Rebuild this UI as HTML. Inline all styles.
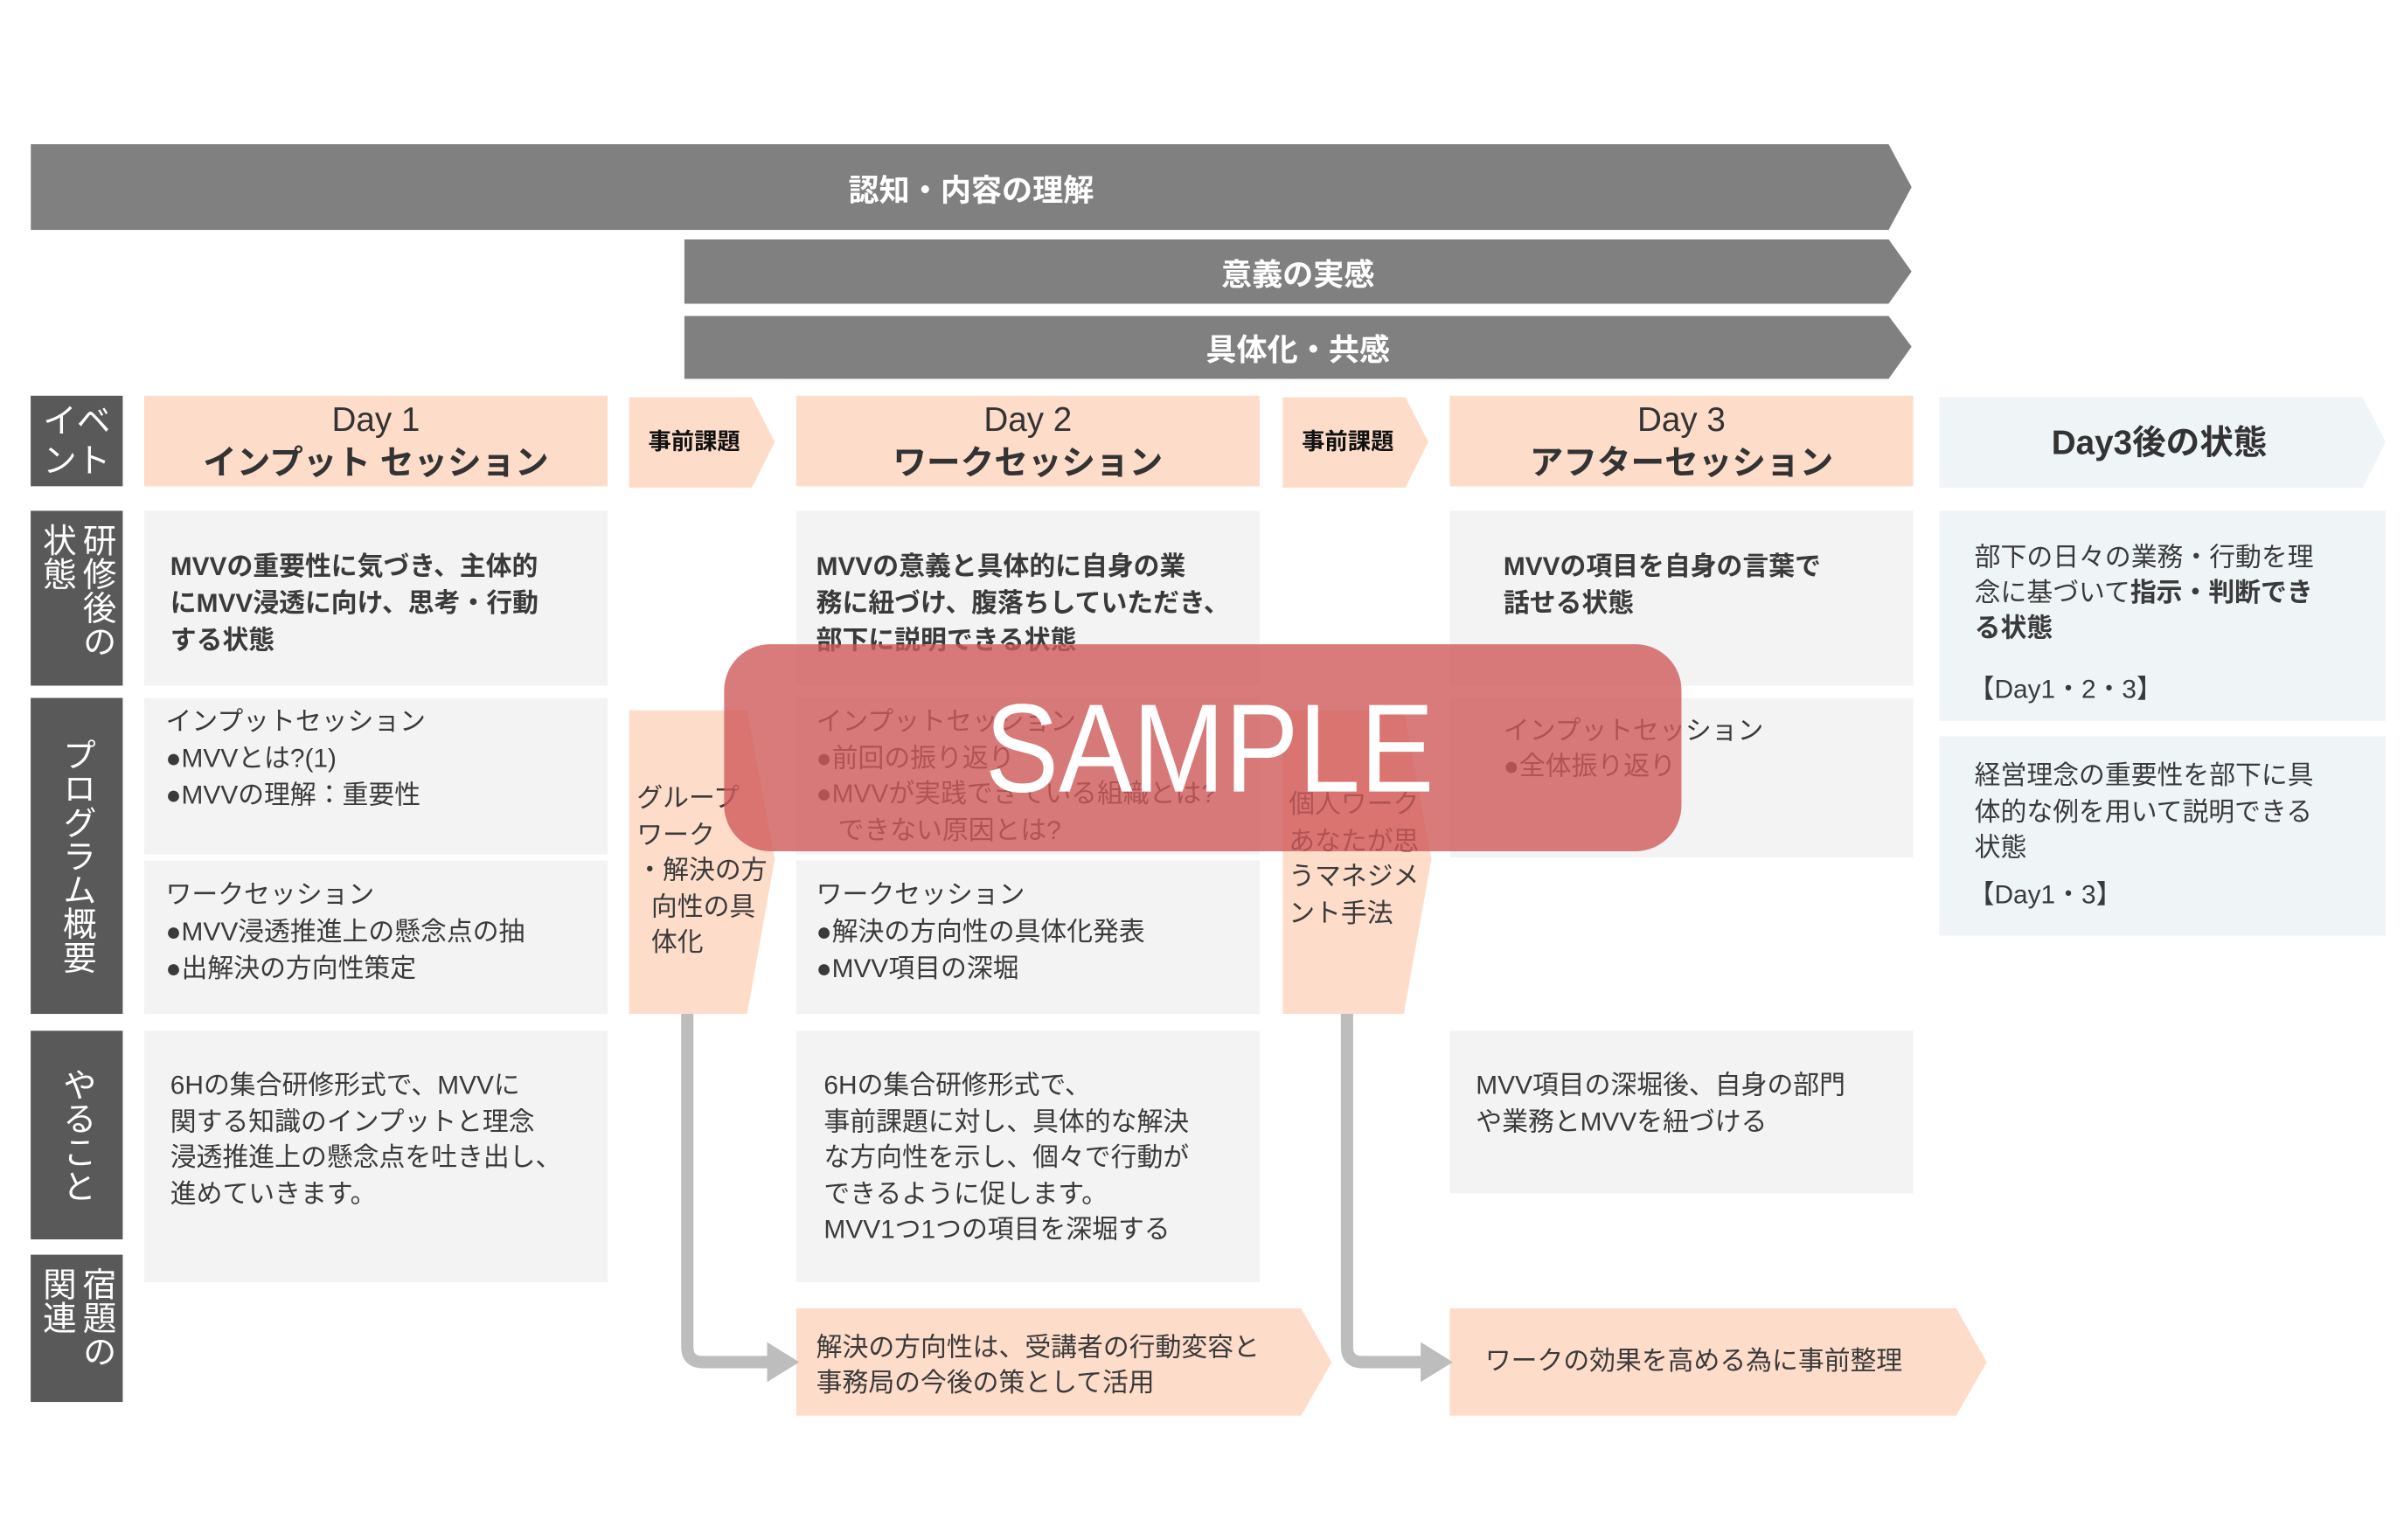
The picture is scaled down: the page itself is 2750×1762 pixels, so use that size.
<!DOCTYPE html>
<html><head><meta charset="utf-8"><style>
html,body{margin:0;padding:0;background:#fff;}
body{width:2750px;height:1761px;overflow:hidden;position:relative;}
#s{position:absolute;left:0;top:0;width:1567px;height:1004px;transform:scale(1.755);transform-origin:0 0;font-family:"Liberation Sans","Noto Sans CJK JP",sans-serif;color:#3a3a3a;}
.a{position:absolute;box-sizing:border-box;}
.bar{background:#808080;color:#fff;font-weight:bold;font-size:20px;display:flex;align-items:center;justify-content:center;}
.lab{background:#595959;color:#fff;font-size:22px;writing-mode:vertical-rl;display:flex;align-items:center;justify-content:center;line-height:26px;}
.pe{background:#fddcc9;}
.gr{background:#f3f3f3;}
.bl{background:#eff4f7;}
.t{position:absolute;font-size:17px;line-height:24px;white-space:nowrap;}
.b{font-weight:bold;}
.hd{display:flex;flex-direction:column;align-items:center;justify-content:center;font-size:22px;line-height:28px;font-weight:bold;color:#333;}
</style></head><body><div id="s">
<!-- top bars -->
<div class="a bar" style="left:20px;top:94px;width:1226px;height:56px;clip-path:polygon(0 0,1211px 0,1226px 28px,1211px 56px,0 56px);">認知・内容の理解</div>
<div class="a bar" style="left:446px;top:156px;width:800px;height:42px;clip-path:polygon(0 0,785px 0,800px 21px,785px 42px,0 42px);">意義の実感</div>
<div class="a bar" style="left:446px;top:206px;width:800px;height:41px;clip-path:polygon(0 0,785px 0,800px 20px,785px 41px,0 41px);">具体化・共感</div>

<!-- left labels -->
<div class="a lab" style="left:20px;top:258px;width:60px;height:59px;writing-mode:horizontal-tb;line-height:26px;text-align:center;">イベ<br>ント</div>
<div class="a lab" style="left:20px;top:333px;width:60px;height:114px;justify-content:flex-start;padding-top:8px;">研修後の<br>状態</div>
<div class="a lab" style="left:20px;top:455px;width:60px;height:206px;">プログラム概要</div>
<div class="a lab" style="left:20px;top:672px;width:60px;height:136px;">やること</div>
<div class="a lab" style="left:20px;top:818px;width:60px;height:96px;justify-content:flex-start;padding-top:8px;">宿題の<br>関連</div>

<!-- event row -->
<div class="a pe hd" style="left:94px;top:258px;width:302px;height:59px;"><div style="font-weight:normal">Day 1</div><div>インプット セッション</div></div>
<div class="a pe hd" style="left:410px;top:259px;width:95px;height:59px;font-size:15px;clip-path:polygon(0 0,80px 0,95px 29px,80px 59px,0 59px);color:#111;padding-right:10px;">事前課題</div>
<div class="a pe hd" style="left:519px;top:258px;width:302px;height:59px;"><div style="font-weight:normal">Day 2</div><div>ワークセッション</div></div>
<div class="a pe hd" style="left:836px;top:259px;width:95px;height:59px;font-size:15px;clip-path:polygon(0 0,80px 0,95px 29px,80px 59px,0 59px);color:#111;padding-right:10px;">事前課題</div>
<div class="a pe hd" style="left:945px;top:258px;width:302px;height:59px;"><div style="font-weight:normal">Day 3</div><div>アフターセッション</div></div>
<div class="a bl hd" style="left:1264px;top:259px;width:291px;height:59px;clip-path:polygon(0 0,276px 0,291px 29px,276px 59px,0 59px);padding-right:4px;">Day3後の状態</div>

<!-- state row -->
<div class="a gr" style="left:94px;top:333px;width:302px;height:114px;"></div>
<div class="a gr" style="left:519px;top:333px;width:302px;height:114px;"></div>
<div class="a gr" style="left:945px;top:333px;width:302px;height:114px;"></div>
<div class="t b" style="left:111px;top:358px;">MVVの重要性に気づき、主体的<br>にMVV浸透に向け、思考・行動<br>する状態</div>
<div class="t b" style="left:532px;top:358px;">MVVの意義と具体的に自身の業<br>務に紐づけ、腹落ちしていただき、<br>部下に説明できる状態</div>
<div class="t b" style="left:980px;top:358px;">MVVの項目を自身の言葉で<br>話せる状態</div>

<!-- right column -->
<div class="a bl" style="left:1264px;top:333px;width:291px;height:137px;"></div>
<div class="a bl" style="left:1264px;top:480px;width:291px;height:130px;"></div>
<div class="t" style="left:1287px;top:352px;line-height:23px;">部下の日々の業務・行動を理<br>念に基づいて<b>指示・判断でき</b><br><b>る状態</b></div>
<div class="t" style="left:1283px;top:438px;">【Day1・2・3】</div>
<div class="t" style="left:1287px;top:494px;line-height:23.5px;">経営理念の重要性を部下に具<br>体的な例を用いて説明できる<br>状態</div>
<div class="t" style="left:1283px;top:572px;">【Day1・3】</div>

<!-- program rows -->
<div class="a gr" style="left:94px;top:455px;width:302px;height:102px;"></div>
<div class="a gr" style="left:94px;top:561px;width:302px;height:100px;"></div>
<div class="a gr" style="left:519px;top:455px;width:302px;height:102px;"></div>
<div class="a gr" style="left:519px;top:561px;width:302px;height:100px;"></div>
<div class="a gr" style="left:945px;top:455px;width:302px;height:104px;"></div>
<div class="t" style="left:108px;top:459px;">インプットセッション<br>●MVVとは?(1)<br>●MVVの理解：重要性</div>
<div class="t" style="left:108px;top:572px;">ワークセッション<br>●MVV浸透推進上の懸念点の抽<br>●出解決の方向性策定</div>
<div class="t" style="left:532px;top:459px;line-height:23.7px;">インプットセッション<br>●前回の振り返り<br>●MVVが実践できている組織とは?<br>&nbsp;&nbsp;&nbsp;できない原因とは?</div>
<div class="t" style="left:532px;top:572px;">ワークセッション<br>●解決の方向性の具体化発表<br>●MVV項目の深堀</div>
<div class="t" style="left:980px;top:465px;line-height:23px;">インプットセッション<br>●全体振り返り</div>

<!-- group work shapes -->
<div class="a pe" style="left:410px;top:463px;width:95px;height:198px;clip-path:polygon(0 0,77px 0,95px 97px,77px 198px,0 198px);"></div>
<div class="t" style="left:415px;top:509px;line-height:23.5px;">グループ<br>ワーク<br>・解決の方<br>&nbsp;&nbsp;向性の具<br>&nbsp;&nbsp;体化</div>
<div class="a pe" style="left:836px;top:463px;width:97px;height:198px;clip-path:polygon(0 0,79px 0,97px 97px,79px 198px,0 198px);"></div>
<div class="t" style="left:840px;top:513px;line-height:23.7px;">個人ワーク<br>あなたが思<br>うマネジメ<br>ント手法</div>

<!-- やること -->
<div class="a gr" style="left:94px;top:672px;width:302px;height:164px;"></div>
<div class="a gr" style="left:519px;top:672px;width:302px;height:164px;"></div>
<div class="a gr" style="left:945px;top:672px;width:302px;height:106px;"></div>
<div class="t" style="left:111px;top:696px;line-height:23.7px;">6Hの集合研修形式で、MVVに<br>関する知識のインプットと理念<br>浸透推進上の懸念点を吐き出し、<br>進めていきます。</div>
<div class="t" style="left:537px;top:696px;line-height:23.5px;">6Hの集合研修形式で、<br>事前課題に対し、具体的な解決<br>な方向性を示し、個々で行動が<br>できるように促します。<br>MVV1つ1つの項目を深堀する</div>
<div class="t" style="left:962px;top:696px;">MVV項目の深堀後、自身の部門<br>や業務とMVVを紐づける</div>

<!-- homework -->
<div class="a pe" style="left:519px;top:853px;width:349px;height:70px;clip-path:polygon(0 0,329px 0,349px 35px,329px 70px,0 70px);"></div>
<div class="t" style="left:532px;top:867px;line-height:23px;">解決の方向性は、受講者の行動変容と<br>事務局の今後の策として活用</div>
<div class="a pe" style="left:945px;top:853px;width:350px;height:70px;clip-path:polygon(0 0,330px 0,350px 35px,330px 70px,0 70px);"></div>
<div class="t" style="left:968px;top:876px;">ワークの効果を高める為に事前整理</div>

<!-- connectors -->
<svg class="a" style="left:0;top:0;" width="1567" height="1004">
<path d="M448 661 V878 Q448 888 458 888 H502" fill="none" stroke="#bdbdbd" stroke-width="8"/>
<polygon points="500,875 521,888 500,901" fill="#bdbdbd"/>
<path d="M878 661 V878 Q878 888 888 888 H928" fill="none" stroke="#bdbdbd" stroke-width="8"/>
<polygon points="926,875 947,888 926,901" fill="#bdbdbd"/>
</svg>

<!-- SAMPLE overlay -->
<div class="a" style="left:472px;top:420px;width:624px;height:135px;border-radius:30px;background:rgba(208,90,90,0.8);"></div>
<div class="a" style="left:472px;top:420px;width:624px;height:135px;display:flex;align-items:center;justify-content:center;color:#fff;font-size:82px;font-family:'Liberation Sans',sans-serif;padding-left:8px;padding-top:2px;"><span style="display:inline-block;transform:scaleX(0.88);">SAMPLE</span></div>
</div></body></html>
